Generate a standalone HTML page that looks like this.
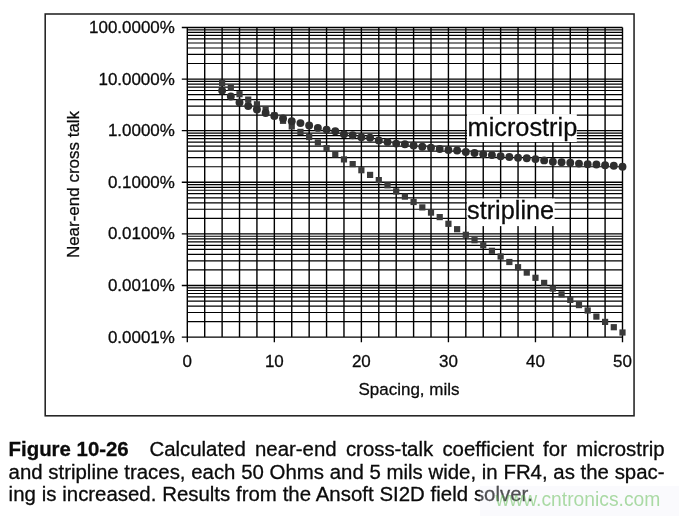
<!DOCTYPE html>
<html><head><meta charset="utf-8"><style>
html,body{margin:0;padding:0;background:#fff;}
body{width:679px;height:516px;position:relative;overflow:hidden;font-family:"Liberation Sans",sans-serif;}
#cap{position:absolute;left:8.6px;top:439.3px;width:660px;transform-origin:0 0;transform:scaleX(1.02);font-size:20px;line-height:22.5px;color:#111;white-space:nowrap;opacity:0.995;}
#cap b{font-weight:bold;}
#wmbg{position:absolute;left:480px;top:486px;width:199px;height:30px;background:rgba(240,240,248,0.3);}
#wm{position:absolute;left:495.4px;top:486.7px;font-size:19.3px;line-height:26px;color:rgba(90,185,75,0.5);white-space:nowrap;}
</style></head><body>
<svg width="679" height="516" viewBox="0 0 679 516" style="position:absolute;left:0;top:0"><rect x="45.2" y="14" width="588.85" height="401.8" fill="#fff" stroke="#222" stroke-width="1.55"/><g stroke="#000" stroke-width="1.4" fill="none"><path d="M187.30 27.45V337.10M204.71 27.45V337.10M222.12 27.45V337.10M239.52 27.45V337.10M256.93 27.45V337.10M274.34 27.45V337.10M291.75 27.45V337.10M309.16 27.45V337.10M326.56 27.45V337.10M343.97 27.45V337.10M361.38 27.45V337.10M378.79 27.45V337.10M396.20 27.45V337.10M413.60 27.45V337.10M431.01 27.45V337.10M448.42 27.45V337.10M465.83 27.45V337.10M483.24 27.45V337.10M500.64 27.45V337.10M518.05 27.45V337.10M535.46 27.45V337.10M552.87 27.45V337.10M570.28 27.45V337.10M587.68 27.45V337.10M605.09 27.45V337.10M622.50 27.45V337.10"/><path stroke-width="1.2" d="M187.30 63.52H622.50M187.30 54.43H622.50M187.30 47.99H622.50M187.30 42.99H622.50M187.30 38.90H622.50M187.30 35.44H622.50M187.30 32.45H622.50M187.30 29.81H622.50M187.30 115.13H622.50M187.30 106.04H622.50M187.30 99.60H622.50M187.30 94.59H622.50M187.30 90.51H622.50M187.30 87.05H622.50M187.30 84.06H622.50M187.30 81.42H622.50M187.30 166.74H622.50M187.30 157.65H622.50M187.30 151.20H622.50M187.30 146.20H622.50M187.30 142.12H622.50M187.30 138.66H622.50M187.30 135.67H622.50M187.30 133.03H622.50M187.30 218.35H622.50M187.30 209.26H622.50M187.30 202.81H622.50M187.30 197.81H622.50M187.30 193.72H622.50M187.30 190.27H622.50M187.30 187.28H622.50M187.30 184.64H622.50M187.30 269.96H622.50M187.30 260.87H622.50M187.30 254.42H622.50M187.30 249.42H622.50M187.30 245.33H622.50M187.30 241.88H622.50M187.30 238.88H622.50M187.30 236.24H622.50M187.30 321.56H622.50M187.30 312.48H622.50M187.30 306.03H622.50M187.30 301.03H622.50M187.30 296.94H622.50M187.30 293.49H622.50M187.30 290.49H622.50M187.30 287.85H622.50"/><path stroke-width="1.35" d="M181.80 27.45H622.50M181.80 79.06H622.50M181.80 130.67H622.50M181.80 182.28H622.50M181.80 233.88H622.50M181.80 285.49H622.50M181.80 337.10H622.50M187.30 337.10V342.30M274.34 337.10V342.30M361.38 337.10V342.30M448.42 337.10V342.30M535.46 337.10V342.30M622.50 337.10V342.30"/></g><rect x="467" y="114.1" width="109.8" height="27.9" fill="#fff"/><rect x="466.9" y="198.5" width="87.7" height="27.6" fill="#fff"/><g fill="#2e2e2e"><rect x="219.02" y="79.80" width="6.2" height="6.2" fill="#3a3a3a"/><rect x="227.72" y="84.70" width="6.2" height="6.2" fill="#3a3a3a"/><rect x="236.42" y="91.10" width="6.2" height="6.2" fill="#3a3a3a"/><rect x="245.13" y="96.50" width="6.2" height="6.2" fill="#3a3a3a"/><rect x="253.83" y="101.20" width="6.2" height="6.2" fill="#3a3a3a"/><rect x="262.54" y="106.90" width="6.2" height="6.2" fill="#3a3a3a"/><rect x="271.24" y="112.30" width="6.2" height="6.2" fill="#3a3a3a"/><rect x="279.94" y="117.70" width="6.2" height="6.2" fill="#3a3a3a"/><rect x="288.65" y="123.30" width="6.2" height="6.2" fill="#3a3a3a"/><rect x="297.35" y="128.80" width="6.2" height="6.2" fill="#3a3a3a"/><rect x="306.06" y="133.90" width="6.2" height="6.2" fill="#3a3a3a"/><rect x="314.76" y="139.40" width="6.2" height="6.2" fill="#3a3a3a"/><rect x="323.46" y="145.00" width="6.2" height="6.2" fill="#3a3a3a"/><rect x="332.17" y="151.20" width="6.2" height="6.2" fill="#3a3a3a"/><rect x="340.87" y="156.30" width="6.2" height="6.2" fill="#3a3a3a"/><rect x="349.58" y="161.00" width="6.2" height="6.2" fill="#3a3a3a"/><rect x="358.28" y="167.10" width="6.2" height="6.2" fill="#3a3a3a"/><rect x="366.98" y="171.80" width="6.2" height="6.2" fill="#3a3a3a"/><rect x="375.69" y="177.00" width="6.2" height="6.2" fill="#3a3a3a"/><rect x="384.39" y="182.20" width="6.2" height="6.2" fill="#3a3a3a"/><rect x="393.10" y="188.30" width="6.2" height="6.2" fill="#3a3a3a"/><rect x="401.80" y="193.50" width="6.2" height="6.2" fill="#3a3a3a"/><rect x="410.50" y="198.90" width="6.2" height="6.2" fill="#3a3a3a"/><rect x="419.21" y="204.30" width="6.2" height="6.2" fill="#3a3a3a"/><rect x="427.91" y="209.50" width="6.2" height="6.2" fill="#3a3a3a"/><rect x="436.62" y="214.00" width="6.2" height="6.2" fill="#3a3a3a"/><rect x="445.32" y="220.70" width="6.2" height="6.2" fill="#3a3a3a"/><rect x="454.02" y="226.10" width="6.2" height="6.2" fill="#3a3a3a"/><rect x="462.73" y="231.70" width="6.2" height="6.2" fill="#3a3a3a"/><rect x="471.43" y="237.10" width="6.2" height="6.2" fill="#3a3a3a"/><rect x="480.14" y="242.20" width="6.2" height="6.2" fill="#3a3a3a"/><rect x="488.84" y="247.70" width="6.2" height="6.2" fill="#3a3a3a"/><rect x="497.54" y="253.40" width="6.2" height="6.2" fill="#3a3a3a"/><rect x="506.25" y="258.90" width="6.2" height="6.2" fill="#3a3a3a"/><rect x="514.95" y="264.10" width="6.2" height="6.2" fill="#3a3a3a"/><rect x="523.66" y="269.50" width="6.2" height="6.2" fill="#3a3a3a"/><rect x="532.36" y="274.70" width="6.2" height="6.2" fill="#3a3a3a"/><rect x="541.06" y="279.80" width="6.2" height="6.2" fill="#3a3a3a"/><rect x="549.77" y="285.40" width="6.2" height="6.2" fill="#3a3a3a"/><rect x="558.47" y="291.20" width="6.2" height="6.2" fill="#3a3a3a"/><rect x="567.18" y="296.80" width="6.2" height="6.2" fill="#3a3a3a"/><rect x="575.88" y="302.00" width="6.2" height="6.2" fill="#3a3a3a"/><rect x="584.58" y="307.40" width="6.2" height="6.2" fill="#3a3a3a"/><rect x="593.29" y="313.50" width="6.2" height="6.2" fill="#3a3a3a"/><rect x="601.99" y="318.80" width="6.2" height="6.2" fill="#3a3a3a"/><rect x="610.70" y="324.10" width="6.2" height="6.2" fill="#3a3a3a"/><rect x="619.40" y="329.40" width="6.2" height="6.2" fill="#3a3a3a"/><circle cx="222.12" cy="90.60" r="3.95"/><circle cx="230.82" cy="96.50" r="3.95"/><circle cx="239.52" cy="102.40" r="3.95"/><circle cx="248.23" cy="106.00" r="3.95"/><circle cx="256.93" cy="109.50" r="3.95"/><circle cx="265.64" cy="113.00" r="3.95"/><circle cx="274.34" cy="116.00" r="3.95"/><circle cx="283.04" cy="118.40" r="3.95"/><circle cx="291.75" cy="121.30" r="3.95"/><circle cx="300.45" cy="123.10" r="3.95"/><circle cx="309.16" cy="125.50" r="3.95"/><circle cx="317.86" cy="127.90" r="3.95"/><circle cx="326.56" cy="129.60" r="3.95"/><circle cx="335.27" cy="131.30" r="3.95"/><circle cx="343.97" cy="134.20" r="3.95"/><circle cx="352.68" cy="135.30" r="3.95"/><circle cx="361.38" cy="137.20" r="3.95"/><circle cx="370.08" cy="137.70" r="3.95"/><circle cx="378.79" cy="140.50" r="3.95"/><circle cx="387.49" cy="141.90" r="3.95"/><circle cx="396.20" cy="143.60" r="3.95"/><circle cx="404.90" cy="144.30" r="3.95"/><circle cx="413.60" cy="145.50" r="3.95"/><circle cx="422.31" cy="146.70" r="3.95"/><circle cx="431.01" cy="147.80" r="3.95"/><circle cx="439.72" cy="149.00" r="3.95"/><circle cx="448.42" cy="150.00" r="3.95"/><circle cx="457.12" cy="150.50" r="3.95"/><circle cx="465.83" cy="152.00" r="3.95"/><circle cx="474.53" cy="153.00" r="3.95"/><circle cx="483.24" cy="154.30" r="3.95"/><circle cx="491.94" cy="155.10" r="3.95"/><circle cx="500.64" cy="156.20" r="3.95"/><circle cx="509.35" cy="157.00" r="3.95"/><circle cx="518.05" cy="157.80" r="3.95"/><circle cx="526.76" cy="158.30" r="3.95"/><circle cx="535.46" cy="159.10" r="3.95"/><circle cx="544.16" cy="160.40" r="3.95"/><circle cx="552.87" cy="161.80" r="3.95"/><circle cx="561.57" cy="162.30" r="3.95"/><circle cx="570.28" cy="162.80" r="3.95"/><circle cx="578.98" cy="163.60" r="3.95"/><circle cx="587.68" cy="164.20" r="3.95"/><circle cx="596.39" cy="164.50" r="3.95"/><circle cx="605.09" cy="165.30" r="3.95"/><circle cx="613.80" cy="165.70" r="3.95"/><circle cx="622.50" cy="166.70" r="3.95"/></g><g font-family="Liberation Sans, sans-serif" fill="#0a0a0a" stroke="#0a0a0a" stroke-width="0.28" opacity="0.995"><g transform="translate(467.6,136.2) scale(1.012,1)"><text font-size="25">microstrip</text></g><g transform="translate(467,219.4) scale(1.012,1)"><text font-size="25">stripline</text></g><g transform="translate(174.8,32.95) scale(1.087,1)"><text font-size="15.6" text-anchor="end">100.0000%</text></g><g transform="translate(174.8,84.56) scale(1.087,1)"><text font-size="15.6" text-anchor="end">10.0000%</text></g><g transform="translate(174.8,136.17) scale(1.087,1)"><text font-size="15.6" text-anchor="end">1.0000%</text></g><g transform="translate(174.8,187.78) scale(1.087,1)"><text font-size="15.6" text-anchor="end">0.1000%</text></g><g transform="translate(174.8,239.38) scale(1.087,1)"><text font-size="15.6" text-anchor="end">0.0100%</text></g><g transform="translate(174.8,290.99) scale(1.087,1)"><text font-size="15.6" text-anchor="end">0.0010%</text></g><g transform="translate(174.8,342.60) scale(1.087,1)"><text font-size="15.6" text-anchor="end">0.0001%</text></g><text transform="translate(187.30,367) scale(1.03,1)" font-size="16.5" text-anchor="middle">0</text><text transform="translate(274.34,367) scale(1.03,1)" font-size="16.5" text-anchor="middle">10</text><text transform="translate(361.38,367) scale(1.03,1)" font-size="16.5" text-anchor="middle">20</text><text transform="translate(448.42,367) scale(1.03,1)" font-size="16.5" text-anchor="middle">30</text><text transform="translate(535.46,367) scale(1.03,1)" font-size="16.5" text-anchor="middle">40</text><text transform="translate(622.50,367) scale(1.03,1)" font-size="16.5" text-anchor="middle">50</text><text transform="translate(409,394.7) scale(1.03,1)" font-size="16.5" text-anchor="middle">Spacing, mils</text><text transform="translate(78.8,184.5) rotate(-90) scale(1.03,1)" font-size="16.5" text-anchor="middle">Near-end cross talk</text><g font-size="20" stroke-width="0.3" style="white-space:pre"><g transform="translate(8.6,456.3) scale(1.02,1)"><text><tspan font-weight="bold">Figure 10-26</tspan><tspan dx="20.3" style="word-spacing:3.55px">Calculated near-end cross-talk coefficient for microstrip</tspan></text></g><g transform="translate(8.6,478.8) scale(1.02,1)"><text style="word-spacing:0.07px">and stripline traces, each 50 Ohms and 5 mils wide, in FR4, as the spac-</text></g><g transform="translate(8.6,501.3) scale(1.02,1)"><text style="word-spacing:0.2px">ing is increased. Results from the Ansoft SI2D field solver.</text></g></g></g></svg>
<div id="wmbg"></div>
<div id="wm">www.cntronics.com</div>
</body></html>
